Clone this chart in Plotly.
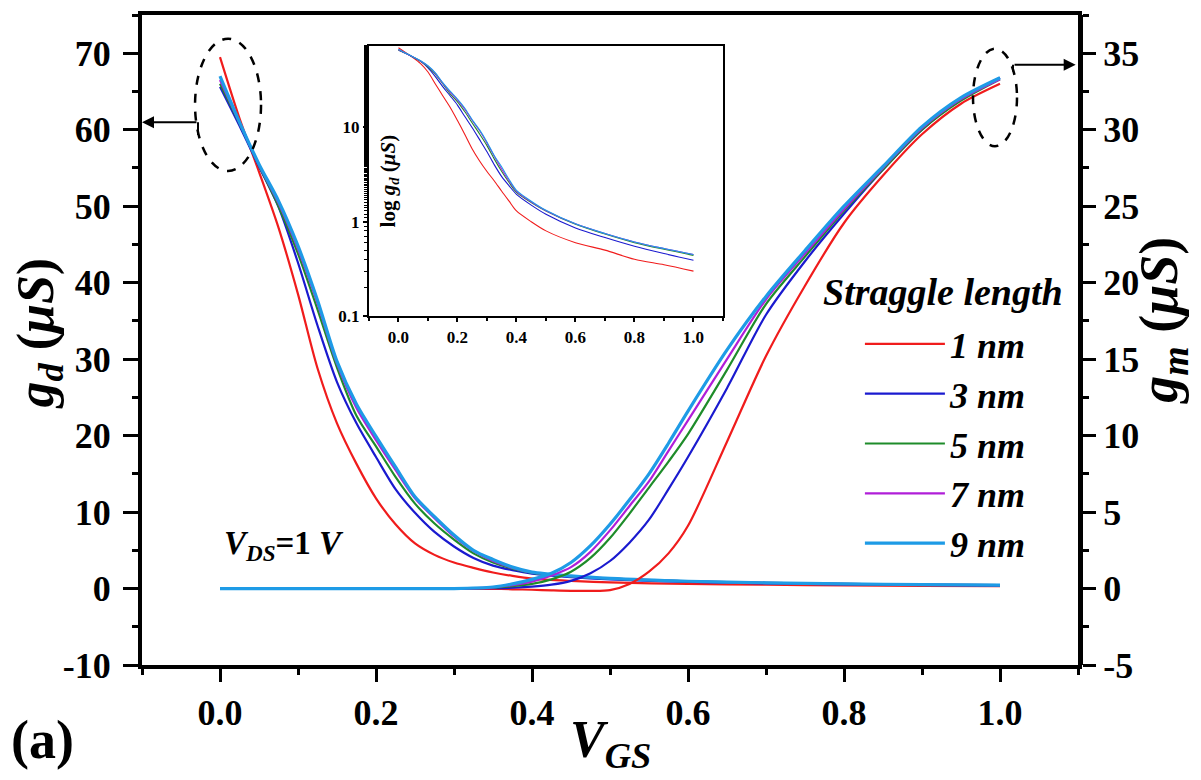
import plotly.graph_objects as go

# ---------------- data ----------------
V_gd = [0, 0.025, 0.05, 0.075, 0.1, 0.125, 0.15, 0.175, 0.2, 0.225, 0.25, 0.275,
        0.3, 0.325, 0.35, 0.375, 0.4, 0.45, 0.5, 0.6, 0.7, 0.8, 0.9, 1.0]
gd_1nm = [69.5, 61.5, 54.5, 47.2, 38.5, 28.8, 21.6, 16.3, 11.8, 8.4, 5.9, 4.4,
          3.4, 2.7, 2.1, 1.65, 1.3, 1.0, 0.8, 0.6, 0.5, 0.4, 0.35, 0.3]
gd_3nm = [65.6, 60.5, 55.2, 49.9, 42.6, 34.4, 27.0, 21.6, 17.2, 13.0, 9.9, 7.4,
          5.5, 4.0, 3.0, 2.4, 1.95, 1.5, 1.2, 0.86, 0.68, 0.55, 0.46, 0.39]
gd_5nm = [66.0, 60.8, 55.3, 50.0, 43.8, 36.5, 28.9, 22.6, 18.6, 14.6, 11.1, 8.5,
          6.4, 4.6, 3.4, 2.6, 2.05, 1.6, 1.3, 0.94, 0.74, 0.6, 0.51, 0.44]
gd_7nm = [66.5, 60.9, 55.4, 50.4, 44.4, 37.3, 29.4, 23.6, 19.4, 15.5, 11.8, 9.2,
          6.8, 4.9, 3.6, 2.7, 2.1, 1.62, 1.31, 0.95, 0.75, 0.61, 0.52, 0.45]
gd_9nm = [67.0, 61.0, 55.5, 50.7, 44.8, 37.7, 29.7, 24.1, 19.9, 15.9, 12.0, 9.4,
          7.0, 5.0, 3.8, 2.8, 2.15, 1.65, 1.32, 0.95, 0.75, 0.61, 0.52, 0.45]

V_gm = [0, 0.1, 0.2, 0.3, 0.35, 0.375, 0.4, 0.425, 0.45, 0.475, 0.5, 0.525, 0.55,
        0.575, 0.6, 0.65, 0.7, 0.75, 0.8, 0.85, 0.9, 0.95, 1.0]
gm_1nm = [0, 0, 0, 0, -0.02, -0.05, -0.08, -0.12, -0.15, -0.15, -0.1, 0.3, 1.1,
          2.3, 4.1, 9.6, 15.2, 19.8, 23.9, 27.0, 29.7, 31.7, 33.0]
gm_3nm = [0, 0, 0, 0, 0.02, 0.05, 0.12, 0.25, 0.5, 1.0, 1.8, 3.0, 4.5,
          6.5, 8.6, 13.1, 17.9, 21.4, 24.5, 27.4, 30.0, 32.0, 33.4]
gm_5nm = [0, 0, 0, 0, 0.05, 0.15, 0.3, 0.6, 1.1, 2.0, 3.3, 4.9, 6.6,
          8.3, 10.1, 14.3, 18.6, 21.7, 24.7, 27.4, 30.0, 31.9, 33.3]
gm_7nm = [0, 0, 0, 0, 0.08, 0.22, 0.45, 0.85, 1.4, 2.4, 3.8, 5.4, 7.0,
          9.0, 11.0, 15.0, 18.9, 21.9, 24.8, 27.5, 30.1, 32.0, 33.3]
gm_9nm = [0, 0, 0, 0, 0.1, 0.3, 0.6, 1.0, 1.7, 2.8, 4.2, 5.8, 7.5,
          9.5, 11.6, 15.6, 19.1, 22.1, 25.0, 27.6, 30.2, 32.1, 33.4]

series_names = ["1 nm", "3 nm", "5 nm", "7 nm", "9 nm"]
gd_all = [gd_1nm, gd_3nm, gd_5nm, gd_7nm, gd_9nm]
gm_all = [gm_1nm, gm_3nm, gm_5nm, gm_7nm, gm_9nm]

x_ticks = [0.0, 0.2, 0.4, 0.6, 0.8, 1.0]
gd_ticks = [-10, 0, 10, 20, 30, 40, 50, 60, 70]
gm_ticks = [-5, 0, 5, 10, 15, 20, 25, 30, 35]
inset_y_ticks = [0.1, 1, 10]

# ---------------- style ----------------
colors = ["#F01C1C", "#1A1ACF", "#1E8C2A", "#B01ED8", "#1E9BE6"]
widths = [2.2, 2.2, 2.2, 2.2, 3.2]
FONT = "Liberation Serif, Times New Roman, serif"

fig = go.Figure()

for name, c, w, gd, gm in zip(series_names, colors, widths, gd_all, gm_all):
    fig.add_trace(go.Scatter(x=V_gd, y=gd, mode="lines", name=f"<b><i>{name}</i></b>",
                             legendgroup=name, showlegend=True,
                             line=dict(color=c, width=w, shape="spline", smoothing=0.8),
                             xaxis="x", yaxis="y"))
    fig.add_trace(go.Scatter(x=V_gm, y=gm, mode="lines", name=name,
                             legendgroup=name, showlegend=False,
                             line=dict(color=c, width=w, shape="spline", smoothing=0.8),
                             xaxis="x", yaxis="y2"))
    fig.add_trace(go.Scatter(x=V_gd, y=gd, mode="lines", name=name,
                             legendgroup=name, showlegend=False,
                             line=dict(color=c, width=1.1, shape="spline", smoothing=0.8),
                             xaxis="x2", yaxis="y3"))

axis_common = dict(showgrid=False, zeroline=False, showline=True, linecolor="black",
                   tickcolor="black", ticks="outside")

fig.update_layout(
    width=1201, height=780,
    margin=dict(l=142, r=123, t=11, b=115),
    paper_bgcolor="white", plot_bgcolor="white",
    font=dict(family=FONT, color="black"),
    xaxis=dict(**axis_common, range=[-0.1, 1.1], tickvals=x_ticks, tickformat=".1f",
               linewidth=4, tickwidth=3, ticklen=13, mirror=True,
               tickfont=dict(size=36, family=FONT, weight="bold"),
               ticklabelstandoff=0,
               minor=dict(ticks="outside", dtick=0.1, ticklen=6, tickwidth=3, tickcolor="black")),
    yaxis=dict(**axis_common, range=[-10, 75], tickvals=gd_ticks,
               ticktext=[str(v) for v in gd_ticks], linewidth=4, tickwidth=3, ticklen=15,
               mirror=True,
               tickfont=dict(size=36, family=FONT, weight="bold"), ticklabelstandoff=5,
               minor=dict(ticks="outside", dtick=5, ticklen=6, tickwidth=3, tickcolor="black")),
    yaxis2=dict(**axis_common, overlaying="y", side="right", range=[-5, 37.5],
                tickvals=gm_ticks, ticktext=[str(v) for v in gm_ticks],
                linewidth=5, tickwidth=3, ticklen=13,
                tickfont=dict(size=36, family=FONT, weight="bold"), ticklabelstandoff=0,
                minor=dict(ticks="outside", dtick=2.5, ticklen=6, tickwidth=3, tickcolor="black")),
    xaxis2=dict(**axis_common, domain=[0.2425, 0.6207], anchor="y3", range=[-0.1, 1.1],
                tickvals=x_ticks, tickformat=".1f", linewidth=2, tickwidth=1.5, ticklen=4,
                mirror=True, tickfont=dict(size=17, family=FONT, weight="bold"),
                minor=dict(ticks="outside", dtick=0.1, ticklen=3, tickwidth=1.5, tickcolor="black")),
    yaxis3=dict(**axis_common, domain=[0.5367, 0.9526], anchor="x2", type="log",
                range=[-1, 1.863], tickvals=inset_y_ticks, ticktext=["0.1", "1", "10"],
                linewidth=2, tickwidth=1.5, ticklen=4, mirror=True,
                tickfont=dict(size=17, family=FONT, weight="bold"),
                minor=dict(ticks="outside", ticklen=2.5, tickwidth=1, tickcolor="black")),
    legend=dict(x=0.767, y=0.54, xanchor="left", yanchor="top",
                font=dict(size=36, family=FONT, color="black"),
                itemwidth=80, tracegroupgap=0, bgcolor="rgba(0,0,0,0)",
                traceorder="normal"),
    showlegend=True,
)

annotations = [
    dict(text="<b><i>Straggle length</i></b>", x=0.8558, y=0.5735, xref="paper", yref="paper",
         showarrow=False, font=dict(size=38, family=FONT, color="black"),
         xanchor="center", yanchor="middle"),
    dict(text="<b><i>V<sub>DS</sub></i>=1 <i>V</i></b>", x=0.002, y=5.6, xref="x", yref="y",
         showarrow=False, font=dict(size=33, family=FONT, color="black"),
         xanchor="left", yanchor="middle"),
    dict(text="<b>(a)</b>", x=-0.106, y=-0.115, xref="paper", yref="paper",
         showarrow=False, font=dict(size=54, family=FONT, color="black"),
         xanchor="center", yanchor="middle"),
    dict(text="<b><i>V<sub>GS</sub></i></b>", x=0.5, y=-0.12, xref="paper", yref="paper",
         showarrow=False, font=dict(size=52, family=FONT, color="black"),
         xanchor="center", yanchor="middle"),
    dict(text="<b><i>g<sub>d</sub></i> (<i>μS</i>)</b>", x=-0.11, y=0.51, xref="paper", yref="paper",
         showarrow=False, font=dict(size=52, family=FONT, color="black"), textangle=-90,
         xanchor="center", yanchor="middle"),
    dict(text="<b><i>g<sub>m</sub></i> (<i>μS</i>)</b>", x=1.09, y=0.53, xref="paper", yref="paper",
         showarrow=False, font=dict(size=54, family=FONT, color="black"), textangle=-90,
         xanchor="center", yanchor="middle"),
    dict(text="<b>log <i>g</i><sub><i>d</i></sub> (<i>μS</i>)</b>", x=0.2635, y=0.745,
         xref="paper", yref="paper", showarrow=False,
         font=dict(size=21, family=FONT, color="black"), textangle=-90,
         xanchor="center", yanchor="middle"),
    # arrows pointing to the axes
    dict(x=-0.1, y=60.96, ax=-0.0282, ay=60.96, xref="x", yref="y", axref="x", ayref="y",
         text="", showarrow=True, arrowhead=2, arrowsize=1.2, arrowwidth=2, arrowcolor="black"),
    dict(x=1.097, y=68.5, ax=1.0167, ay=68.5, xref="x", yref="y", axref="x", ayref="y",
         text="", showarrow=True, arrowhead=2, arrowsize=1.2, arrowwidth=2, arrowcolor="black"),
]
fig.update_layout(annotations=annotations)

shapes = [
    dict(type="circle", xref="x", yref="y", x0=-0.032, x1=0.0526, y0=54.6, y1=71.9,
         line=dict(color="black", width=2.5, dash="dash")),
    dict(type="circle", xref="x", yref="y", x0=0.9654, x1=1.0218, y0=57.84, y1=70.58,
         line=dict(color="black", width=2.5, dash="dash")),
    dict(type="line", xref="x", yref="y", x0=-0.0282, x1=-0.0282, y0=60.96, y1=59.3,
         line=dict(color="black", width=2)),
    dict(type="line", xref="x", yref="y", x0=1.0167, x1=1.0167, y0=68.5, y1=67.6,
         line=dict(color="black", width=2)),
]
fig.update_layout(shapes=shapes)

fig.write_html("out.html")
